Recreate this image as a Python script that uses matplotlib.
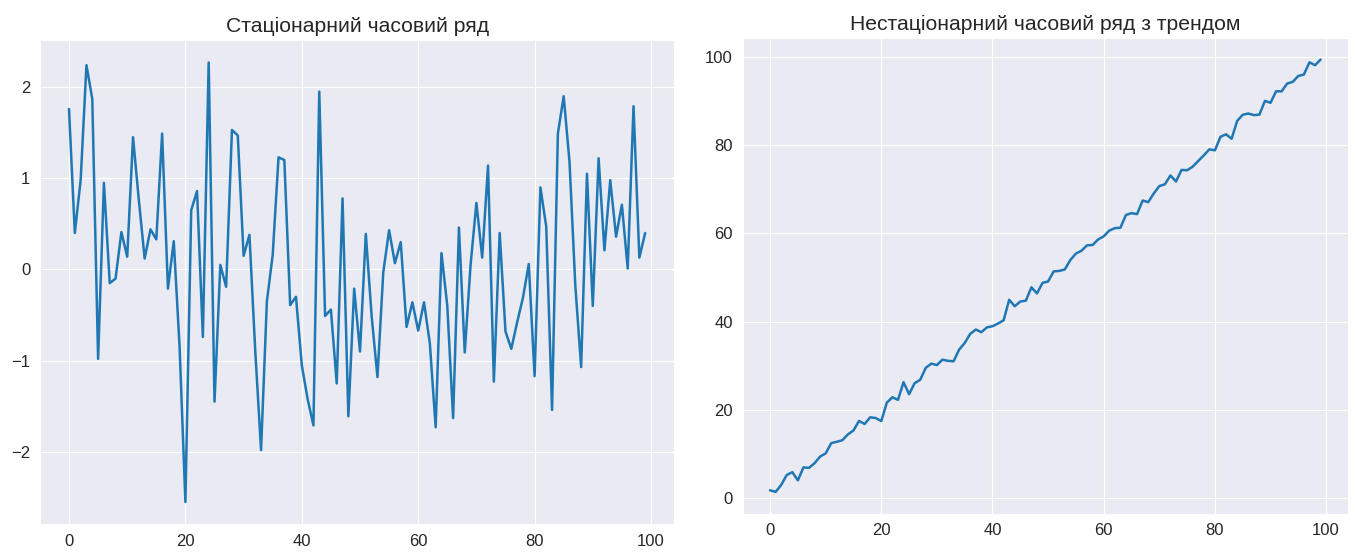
import numpy as np
import matplotlib.pyplot as plt
import seaborn as sns

sns.set_style('darkgrid')
plt.rcParams['font.family'] = ['Liberation Sans', 'DejaVu Sans']
plt.rcParams['text.color'] = '#262626'
plt.rcParams['xtick.color'] = '#262626'
plt.rcParams['ytick.color'] = '#262626'

# стаціонарний ряд
stationary = [
    1.76, 0.40, 0.98, 2.24, 1.87, -0.98, 0.95, -0.15, -0.10, 0.41,
    0.14, 1.45, 0.76, 0.12, 0.44, 0.33, 1.49, -0.21, 0.31, -0.85,
    -2.55, 0.65, 0.86, -0.74, 2.27, -1.45, 0.05, -0.19, 1.53, 1.47,
    0.15, 0.38, -0.89, -1.98, -0.35, 0.16, 1.23, 1.20, -0.39, -0.30,
    -1.05, -1.42, -1.71, 1.95, -0.51, -0.44, -1.25, 0.78, -1.61, -0.21,
    -0.90, 0.39, -0.51, -1.18, -0.03, 0.43, 0.07, 0.30, -0.63, -0.36,
    -0.67, -0.36, -0.81, -1.73, 0.18, -0.40, -1.63, 0.46, -0.91, 0.05,
    0.73, 0.13, 1.14, -1.23, 0.40, -0.68, -0.87, -0.58, -0.31, 0.06,
    -1.17, 0.90, 0.47, -1.54, 1.49, 1.90, 1.18, -0.18, -1.07, 1.05,
    -0.40, 1.22, 0.21, 0.98, 0.36, 0.71, 0.01, 1.79, 0.13, 0.40,
]

# ряд з трендом
trend = [
    1.76, 1.40, 2.98, 5.24, 5.87, 4.02, 6.95, 6.85, 7.90, 9.41,
    10.14, 12.45, 12.76, 13.12, 14.44, 15.33, 17.49, 16.79, 18.31, 18.15,
    17.45, 21.65, 22.86, 22.26, 26.27, 23.55, 26.05, 26.81, 29.53, 30.47,
    30.16, 31.38, 31.11, 31.02, 33.65, 35.16, 37.23, 38.20, 37.61, 38.70,
    38.95, 39.58, 40.29, 44.95, 43.49, 44.56, 44.75, 47.78, 46.39, 48.79,
    49.10, 51.39, 51.49, 51.82, 53.97, 55.43, 56.07, 57.30, 57.37, 58.64,
    59.33, 60.64, 61.19, 61.27, 64.18, 64.60, 64.37, 67.46, 67.09, 69.05,
    70.73, 71.13, 73.14, 71.77, 74.40, 74.31, 75.13, 76.42, 77.69, 79.06,
    78.84, 81.90, 82.47, 81.46, 85.49, 86.90, 87.18, 86.82, 86.93, 90.05,
    89.60, 92.22, 92.21, 93.98, 94.36, 95.71, 96.01, 98.79, 98.13, 99.40,
]

fig = plt.figure(figsize=(13.58, 5.54), dpi=100)
ax1 = fig.add_axes([0.0296, 0.0542, 0.4667, 0.8727])
ax2 = fig.add_axes([0.5468, 0.0731, 0.4459, 0.8583])

ax1.plot(stationary, color='#1f77b4', lw=1.8)
ax1.set_title('Стаціонарний часовий ряд', fontsize=15.2)

ax2.plot(trend, color='#1f77b4', lw=1.8)
ax2.set_title('Нестаціонарний часовий ряд з трендом', fontsize=15.2)

for ax in (ax1, ax2):
    ax.tick_params(labelsize=12)

plt.savefig('out.png')
